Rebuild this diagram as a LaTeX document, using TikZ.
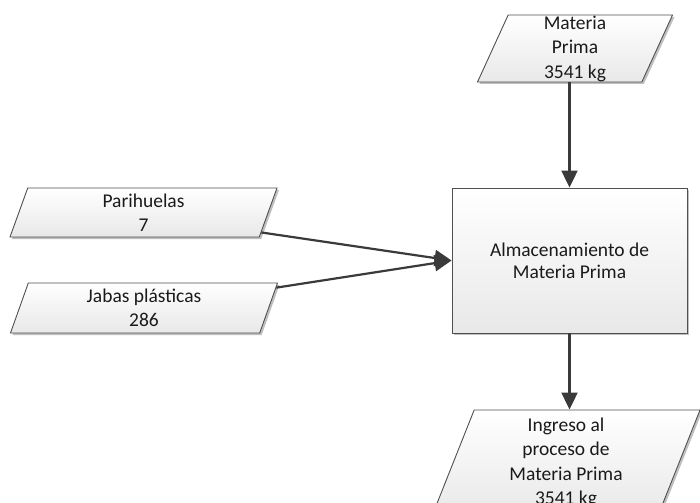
\documentclass[tikz,border=0pt]{standalone}
\usepackage{fontspec}
\setmainfont{Carlito}
\usetikzlibrary{shapes.geometric,arrows.meta,calc,shadows}

\definecolor{edge}{HTML}{505050}
\definecolor{flow}{HTML}{3A3A3A}
\definecolor{ink}{HTML}{1A1A1A}

\tikzset{
  boxfill/.style={top color=white, bottom color=black!9,
    drop shadow={shadow xshift=2bp, shadow yshift=-2bp, opacity=0.25, fill=black}},
  datashape/.style={trapezium, trapezium left angle=65, trapezium right angle=115,
    trapezium stretches body, draw=edge, line width=0.9bp, boxfill,
    inner sep=0pt, align=center, text=ink,
    font=\fontsize{19.5bp}{24.5bp}\selectfont},
  processbox/.style={rectangle, draw=edge, line width=0.9bp, boxfill,
    inner sep=0pt, align=center, text=ink,
    font=\fontsize{19.5bp}{22bp}\selectfont},
  flowline/.style={draw=flow, line width=2.2bp,
    -{Triangle[length=17bp,width=16bp]}}
}

\begin{document}
\begin{tikzpicture}[x=1bp,y=-1bp]
  \useasboundingbox (0,0) rectangle (700,503);

  % inputs
  \node[datashape, minimum width=195bp, minimum height=67bp] (mp) at (575,48.5)
    {Materia\\Prima\\3541 kg};
  \node[datashape, minimum width=267bp, minimum height=49bp] (par) at (143.5,212.5)
    {Parihuelas\\7};
  \node[datashape, minimum width=267bp, minimum height=50bp] (jab) at (144,308)
    {Jabas plásticas\\286};

  % storage step
  \node[processbox, minimum width=235bp, minimum height=145bp] (alm) at (569.5,260.5)
    {Almacenamiento de\\Materia Prima};

  % output
  \node[datashape, minimum width=268bp, minimum height=106bp] (ing) at (566,463)
    {Ingreso al\\proceso de\\Materia Prima\\3541 kg};

  % connection points on the slanted sides
  \coordinate (parout) at ($(par.bottom right corner)!0.1!(par.top right corner)$);
  \coordinate (jabout) at ($(jab.top right corner)!0.1!(jab.bottom right corner)$);

  % flows
  \draw[flowline] (alm.north |- mp.south) -- (alm.north);
  \draw[flowline] (parout) -- (alm.west);
  \draw[flowline] (jabout) -- (alm.west);
  \draw[flowline] (alm.south) -- (alm.south |- ing.north);
\end{tikzpicture}
\end{document}
